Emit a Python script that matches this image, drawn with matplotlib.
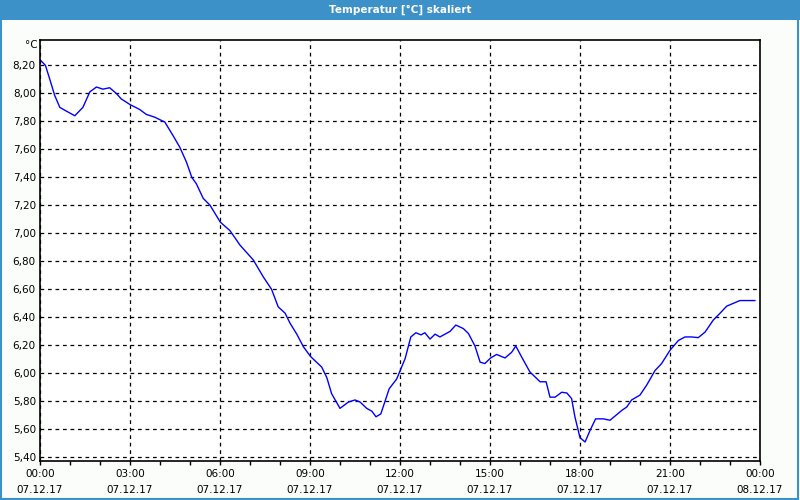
import numpy as np
import matplotlib
matplotlib.use('Agg')
import matplotlib.pyplot as plt
from matplotlib import ticker
from matplotlib.patches import Rectangle

# hours since 07.12.17 00:00 and temperature in °C
hours = [0.0, 0.18, 0.32, 0.49, 0.66, 0.82, 1.16, 1.43, 1.66, 1.88, 2.1, 2.32, 2.54, 2.71,
         3.0, 3.32, 3.54, 3.82, 4.16, 4.43, 4.66, 4.88, 5.06, 5.21, 5.44, 5.67, 6.01, 6.33,
         6.67, 7.11, 7.44, 7.72, 7.94, 8.17, 8.33, 8.56, 8.78, 9.02, 9.39, 9.56, 9.72, 10.0,
         10.28, 10.5, 10.67, 10.89, 11.06, 11.2, 11.36, 11.64, 11.89, 12.17, 12.36, 12.53,
         12.7, 12.83, 13.0, 13.17, 13.33, 13.67, 13.86, 14.11, 14.28, 14.5, 14.67, 14.83,
         15.02, 15.22, 15.5, 15.72, 15.86, 16.06, 16.33, 16.67, 16.87, 17.0, 17.17, 17.39,
         17.56, 17.72, 17.83, 18.0, 18.17, 18.33, 18.52, 18.78, 19.0, 19.39, 19.56, 19.72,
         20.0, 20.22, 20.5, 20.72, 21.0, 21.28, 21.5, 21.72, 21.94, 22.17, 22.44, 22.67,
         22.89, 23.11, 23.33, 23.83]
temps = [8.24, 8.20, 8.105, 7.985, 7.90, 7.88, 7.84, 7.90, 8.01, 8.045, 8.03, 8.04, 8.00, 7.96,
         7.92, 7.885, 7.85, 7.83, 7.795, 7.70, 7.615, 7.51, 7.40, 7.355, 7.25, 7.20, 7.08, 7.02,
         6.915, 6.81, 6.69, 6.60, 6.475, 6.43, 6.36, 6.28, 6.19, 6.12, 6.045, 5.97, 5.855, 5.75,
         5.795, 5.81, 5.795, 5.75, 5.73, 5.69, 5.71, 5.89, 5.96, 6.105, 6.26, 6.29,
         6.275, 6.29, 6.245, 6.28, 6.26, 6.30, 6.345, 6.32, 6.285, 6.195, 6.08, 6.07,
         6.11, 6.135, 6.11, 6.15, 6.195, 6.115, 6.01, 5.94, 5.94, 5.83, 5.83, 5.865,
         5.86, 5.82, 5.69, 5.54, 5.51, 5.59, 5.675, 5.675, 5.665, 5.735, 5.76, 5.81,
         5.845, 5.915, 6.02, 6.07, 6.165, 6.235, 6.26, 6.26, 6.255, 6.295, 6.38, 6.43,
         6.48, 6.50, 6.52, 6.52]

tick_hours = [0, 3, 6, 9, 12, 15, 18, 21, 24]
tick_times = ['00:00', '03:00', '06:00', '09:00', '12:00', '15:00', '18:00', '21:00', '00:00']
tick_dates = ['07.12.17'] * 8 + ['08.12.17']
y_ticks = np.arange(5.4, 8.21, 0.2)

bar_color = '#3c91c8'

fig = plt.figure(figsize=(8, 5), dpi=100, facecolor='#fbfdfb')
# title bar and thin frame
fig.patches.append(Rectangle((0, 0.96), 1, 0.04, transform=fig.transFigure,
                             facecolor=bar_color, edgecolor='none', zorder=0))
fig.patches.append(Rectangle((0.001, 0.002), 0.997, 0.996, transform=fig.transFigure,
                             facecolor='none', edgecolor=bar_color, linewidth=1.5, zorder=0))
fig.text(0.5, 0.981, 'Temperatur [°C] skaliert', color='white', fontsize=7.5,
         fontweight='bold', ha='center', va='center')

ax = fig.add_axes([0.05, 0.078, 0.9, 0.842])
ax.plot(hours, temps, color='#0000ff', linewidth=1.0)

ax.set_xlim(0, 24)
ax.set_ylim(5.374, 8.381)

ax.xaxis.set_major_locator(ticker.FixedLocator(tick_hours))
ax.set_xticklabels([t + '\n' + d for t, d in zip(tick_times, tick_dates)], linespacing=1.75)
ax.xaxis.set_minor_locator(ticker.MultipleLocator(1))
ax.yaxis.set_major_locator(ticker.FixedLocator(y_ticks))
ax.yaxis.set_major_formatter(ticker.FuncFormatter(lambda v, p: f'{v:.2f}'.replace('.', ',')))

ax.tick_params(axis='x', which='major', length=3, width=1, labelsize=7.5, pad=3)
ax.tick_params(axis='x', which='minor', length=3, width=1)
ax.tick_params(axis='y', length=0, labelsize=7.5, pad=3)

ax.grid(True, axis='both', which='major', color='black', linestyle=(0, (3, 3)), linewidth=0.9)
for s in ax.spines.values():
    s.set_linewidth(1.2)

ax.text(-0.003, 1.0, '°C', transform=ax.transAxes, ha='right', va='top', fontsize=7.5)

fig.savefig('out.png', dpi=100, facecolor=fig.get_facecolor())
